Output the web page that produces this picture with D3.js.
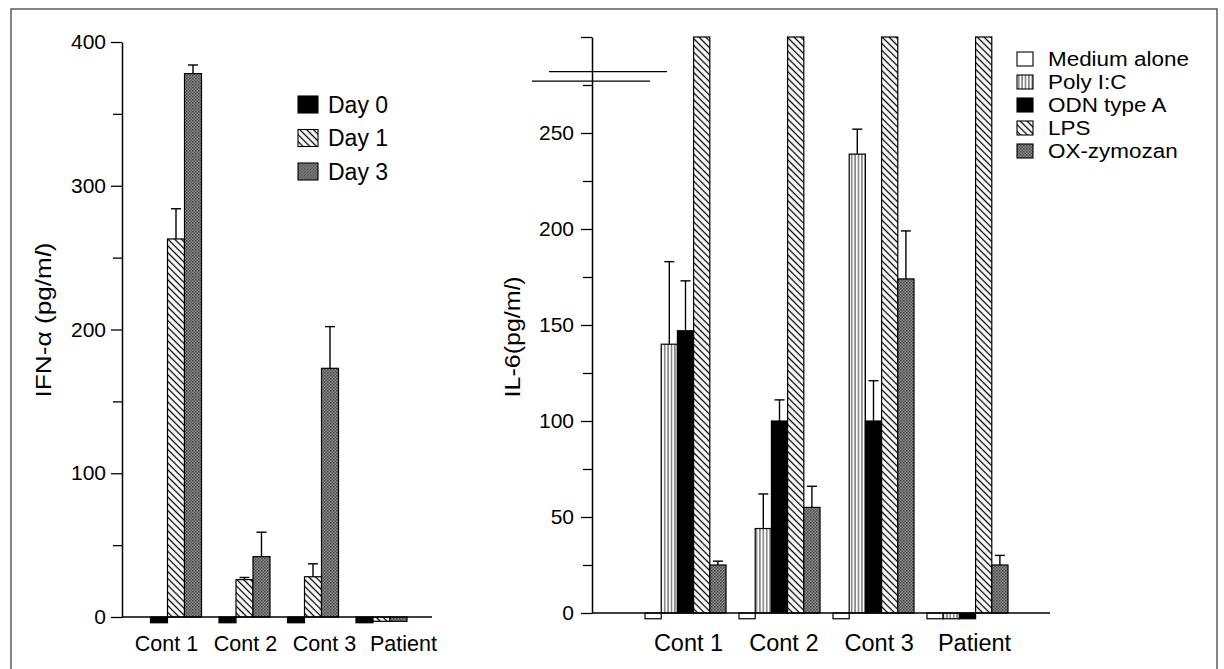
<!DOCTYPE html>
<html>
<head>
<meta charset="utf-8">
<script src="https://cdn.jsdelivr.net/npm/d3@7"></script>
<style>
  body { margin: 0; background: #fff; }
  svg { display: block; font-family: "Liberation Sans", Arial, Helvetica, sans-serif; }
</style>
</head>
<body>
<svg id="chart" width="1224" height="669"></svg>
<script>
// categories (same for both panels)
const groups = ["Cont 1", "Cont 2", "Cont 3", "Patient"];

// left panel: IFN-alpha (pg/ml)
const daySeries = ["Day 0", "Day 1", "Day 3"];
const day0 = [-4, -4, -4, -4];
const day0Err = [0, 0, 0, 0];
const day1 = [263, 26, 28, -3];
const day1Err = [21, 1.5, 9, 0];
const day3 = [378, 42, 173, -3];
const day3Err = [6, 17, 29, 0];
const ifnTicks = [0, 100, 200, 300, 400];
const ifnMinorTicks = [50, 150, 250, 350];

// right panel: IL-6 (pg/ml), LPS bars run off the top of the axis
const stimSeries = ["Medium alone", "Poly I:C", "ODN type A", "LPS", "OX-zymozan"];
const medium = [-3, -3, -3, -3];
const mediumErr = [0, 0, 0, 0];
const polyIC = [140, 44, 239, -3];
const polyICErr = [43, 18, 13, 0];
const odnA = [147, 100, 100, -3];
const odnAErr = [26, 11, 21, 0];
const lps = [300, 300, 300, 300]; // off scale
const lpsErr = [0, 0, 0, 0];
const oxZymozan = [25, 55, 174, 25];
const oxZymozanErr = [2, 11, 25, 5];
const il6Ticks = [0, 50, 100, 150, 200, 250, 300];
const il6MinorTicks = [25, 75, 125, 175, 225, 275];
const il6Break = [277, 282];

const svg = d3.select("#chart");

// frame round the figure
svg.append("rect")
  .attr("x", 11).attr("y", 9)
  .attr("width", 1206).attr("height", 700)
  .attr("fill", "none").attr("stroke", "#444").attr("stroke-width", 1.3);

// fill patterns
const defs = svg.append("defs");

const hatch = defs.append("pattern")
  .attr("id", "hatch").attr("patternUnits", "userSpaceOnUse")
  .attr("width", 4.8).attr("height", 4.8)
  .attr("patternTransform", "rotate(-45)");
hatch.append("rect").attr("width", 4.8).attr("height", 4.8).attr("fill", "#fff");
hatch.append("line")
  .attr("x1", 2.4).attr("y1", 0).attr("x2", 2.4).attr("y2", 4.8)
  .attr("stroke", "#000").attr("stroke-width", 1.3);

const stripes = defs.append("pattern")
  .attr("id", "stripes").attr("patternUnits", "userSpaceOnUse")
  .attr("width", 3.4).attr("height", 10);
stripes.append("rect").attr("width", 3.4).attr("height", 10).attr("fill", "#fff");
stripes.append("line")
  .attr("x1", 1.7).attr("y1", 0).attr("x2", 1.7).attr("y2", 10)
  .attr("stroke", "#222").attr("stroke-width", 0.9);

const stipple = defs.append("pattern")
  .attr("id", "stipple").attr("patternUnits", "userSpaceOnUse")
  .attr("width", 3).attr("height", 3);
stipple.append("rect").attr("width", 3).attr("height", 3).attr("fill", "#8c8c8c");
stipple.append("rect").attr("width", 1.5).attr("height", 1.5).attr("fill", "#444");
stipple.append("rect").attr("x", 1.5).attr("y", 1.5).attr("width", 1.5).attr("height", 1.5).attr("fill", "#555");

const dayFill = { "Day 0": "#000", "Day 1": "url(#hatch)", "Day 3": "url(#stipple)" };
const stimFill = {
  "Medium alone": "#fff",
  "Poly I:C": "url(#stripes)",
  "ODN type A": "#000",
  "LPS": "url(#hatch)",
  "OX-zymozan": "url(#stipple)"
};

function makeRows(series, values, errs) {
  const rows = [];
  groups.forEach(function (g, i) {
    series.forEach(function (s, j) {
      rows.push({ group: g, series: s, value: values[j][i], err: errs[j][i] });
    });
  });
  return rows;
}

const ifnRows = makeRows(daySeries, [day0, day1, day3], [day0Err, day1Err, day3Err]);
const il6Rows = makeRows(
  stimSeries,
  [medium, polyIC, odnA, lps, oxZymozan],
  [mediumErr, polyICErr, odnAErr, lpsErr, oxZymozanErr]
);

function drawPanel(p) {
  const g = svg.append("g");

  const x0 = d3.scaleBand().domain(groups).range(p.bandRange).paddingInner(p.padInner);
  const x1 = d3.scaleBand().domain(p.series).range([0, x0.bandwidth()]);
  const y = d3.scaleLinear().domain(p.yDomain).range(p.yRange);
  const yMax = p.yDomain[1];

  // bars
  g.append("g")
    .selectAll("rect")
    .data(p.rows)
    .enter()
    .append("rect")
    .attr("x", function (d) { return x0(d.group) + x1(d.series); })
    .attr("y", function (d) { return y(Math.min(Math.max(d.value, 0), yMax)); })
    .attr("width", x1.bandwidth())
    .attr("height", function (d) {
      return Math.abs(y(Math.min(d.value, yMax)) - y(0));
    })
    .attr("fill", function (d) { return p.fill[d.series]; })
    .attr("stroke", "#000")
    .attr("stroke-width", 1.2);

  // error bars (upper only)
  const errRows = p.rows.filter(function (d) { return d.err > 0; });
  const cx = function (d) { return x0(d.group) + x1(d.series) + x1.bandwidth() / 2; };
  const eb = g.append("g").attr("stroke", "#000").attr("stroke-width", 1.4);
  eb.selectAll("line.stem")
    .data(errRows)
    .enter()
    .append("line")
    .attr("class", "stem")
    .attr("x1", cx)
    .attr("x2", cx)
    .attr("y1", function (d) { return y(d.value); })
    .attr("y2", function (d) { return y(d.value + d.err); });
  eb.selectAll("line.cap")
    .data(errRows)
    .enter()
    .append("line")
    .attr("class", "cap")
    .attr("x1", function (d) { return cx(d) - 5; })
    .attr("x2", function (d) { return cx(d) + 5; })
    .attr("y1", function (d) { return y(d.value + d.err); })
    .attr("y2", function (d) { return y(d.value + d.err); });

  // x axis line
  g.append("line")
    .attr("x1", p.axisX).attr("x2", p.axisEnd)
    .attr("y1", y(0)).attr("y2", y(0))
    .attr("stroke", "#000").attr("stroke-width", 1.5);

  // Add Y axis
  const yAxis = g.append("g")
    .attr("transform", "translate(" + p.axisX + ",0)")
    .call(d3.axisLeft(y).tickValues(p.ticks).tickSize(11).tickPadding(p.tickPad)
      .tickSizeOuter(0)
      .tickFormat(function (v) { return p.labelled(v) ? v : ""; }));
  yAxis.attr("font-family", null).attr("font-size", 21);
  yAxis.select(".domain").attr("stroke-width", 1.5);
  yAxis.selectAll(".tick line").attr("stroke-width", 1.3);
  yAxis.selectAll(".tick text").attr("fill", "#000");

  g.append("g")
    .attr("transform", "translate(" + p.axisX + ",0)")
    .call(d3.axisLeft(y).tickValues(p.minorTicks).tickSize(9).tickFormat(""))
    .call(function (a) { a.select(".domain").remove(); })
    .selectAll(".tick line").attr("stroke-width", 1.3);

  // category labels
  const xl = d3.scalePoint().domain(groups).range(p.labelRange);
  const xAxis = g.append("g")
    .attr("transform", "translate(0," + p.labelY + ")")
    .call(d3.axisBottom(xl).tickSize(0));
  xAxis.select(".domain").remove();
  xAxis.attr("font-family", null).attr("font-size", p.labelSize);
  xAxis.selectAll("text").attr("y", 0).attr("dy", null).attr("fill", "#000");

  // axis title
  const t = g.append("text")
    .attr("transform", "translate(" + p.titlePos[0] + "," + p.titlePos[1] + ") rotate(-90)")
    .attr("text-anchor", "middle")
    .attr("font-size", 22)
    .attr("textLength", p.titleLength)
    .attr("lengthAdjust", "spacingAndGlyphs");
  t.append("tspan").text(p.title);
  t.append("tspan").attr("font-style", "italic").text("l");
  t.append("tspan").text(")");

  // legend
  const lg = g.append("g")
    .selectAll("g")
    .data(p.series)
    .enter()
    .append("g")
    .attr("transform", function (d, i) {
      return "translate(" + p.legend.x + "," + (p.legend.y + i * p.legend.step) + ")";
    });
  lg.append("rect")
    .attr("x", 0).attr("y", -p.legend.h / 2)
    .attr("width", p.legend.w).attr("height", p.legend.h)
    .attr("fill", function (d) { return p.fill[d]; })
    .attr("stroke", "#000").attr("stroke-width", 1.1);
  lg.append("text")
    .attr("x", p.legend.textX)
    .attr("y", 0)
    .attr("dy", "0.36em")
    .attr("font-size", p.legend.fontSize)
    .text(function (d) { return d; })
    .each(function () {
      // widen the glyphs a little, the original type is broad
      const len = this.getComputedTextLength();
      d3.select(this)
        .attr("textLength", len * p.legend.stretch)
        .attr("lengthAdjust", "spacingAndGlyphs");
    });

  return { g: g, y: y };
}

// left panel
drawPanel({
  rows: ifnRows,
  series: daySeries,
  fill: dayFill,
  bandRange: [150.5, 407],
  padInner: 0.2555,
  yDomain: [0, 400],
  yRange: [617, 42],
  axisX: 122,
  axisEnd: 432,
  ticks: ifnTicks,
  minorTicks: ifnMinorTicks,
  labelled: function () { return true; },
  tickPad: 5,
  labelRange: [166, 403],
  labelY: 651,
  labelSize: 21.5,
  title: "IFN-\u03b1 (pg/m",
  titlePos: [51, 320],
  titleLength: 155,
  legend: { x: 298, y: 104.5, step: 33.5, w: 20, h: 17, textX: 30, fontSize: 23, stretch: 1 }
});

// right panel
const right = drawPanel({
  rows: il6Rows,
  series: stimSeries,
  fill: stimFill,
  bandRange: [645, 1008],
  padInner: 0.138,
  yDomain: [0, 300],
  yRange: [613, 37],
  axisX: 592,
  axisEnd: 1050,
  ticks: il6Ticks,
  minorTicks: il6MinorTicks,
  labelled: function (v) { return v <= 250; },
  tickPad: 7,
  labelRange: [688, 974],
  labelY: 651,
  labelSize: 23.5,
  title: "IL-6(pg/m",
  titlePos: [520, 337],
  titleLength: 121,
  legend: { x: 1017, y: 59, step: 23, w: 16, h: 14, textX: 31, fontSize: 19.5, stretch: 1.15 }
});

// axis break marks on the IL-6 axis
right.g.append("g")
  .selectAll("line")
  .data(il6Break)
  .enter()
  .append("line")
  .attr("x1", function (d, i) { return i === 0 ? 532 : 549; })
  .attr("x2", function (d, i) { return i === 0 ? 650 : 667; })
  .attr("y1", function (d) { return right.y(d); })
  .attr("y2", function (d) { return right.y(d); })
  .attr("stroke", "#000")
  .attr("stroke-width", 1.3);
</script>
</body>
</html>
